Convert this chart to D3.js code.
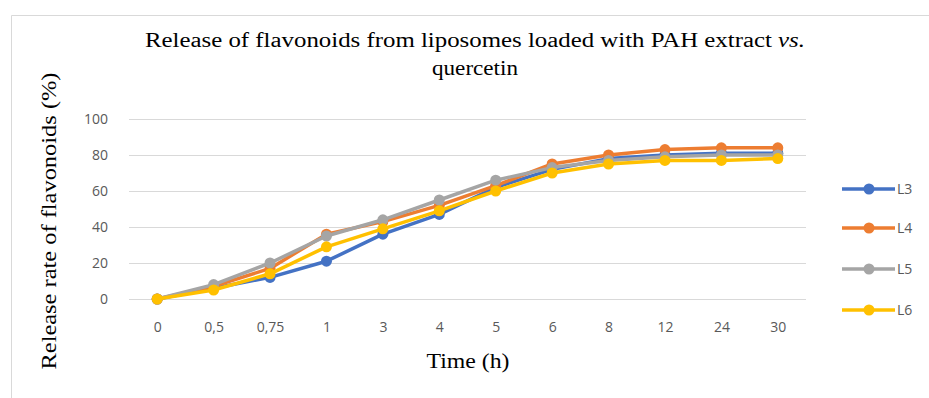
<!DOCTYPE html>
<html>
<head>
<meta charset="utf-8">
<script src="https://cdnjs.cloudflare.com/ajax/libs/d3/7.8.5/d3.min.js"></script>
<style>
  body { margin: 0; background: #fff; }
  svg { display: block; }
</style>
</head>
<body>
<div id="chart"></div>
<script>
// data
var times = ["0", "0,5", "0,75", "1", "3", "4", "5", "6", "8", "12", "24", "30"];
var seriesNames = ["L3", "L4", "L5", "L6"];
var seriesColors = ["#4472C4", "#ED7D31", "#A5A5A5", "#FFC000"];
var L3 = [0, 6, 12, 21, 36, 47, 62, 72, 78, 80, 81, 81];
var L4 = [0, 7, 17, 36, 43, 52, 63, 75, 80, 83, 84, 84];
var L5 = [0, 8, 20, 35, 44, 55, 66, 73, 77, 79, 80, 80];
var L6 = [0, 5, 14, 29, 39, 49, 60, 70, 75, 77, 77, 78];
var yTicks = [0, 20, 40, 60, 80, 100];

var svgWidth = 929;
var svgHeight = 398;

var margin = { top: 119, right: 123, bottom: 99, left: 129 };
var width = svgWidth - margin.left - margin.right;
var height = svgHeight - margin.top - margin.bottom;

var serif = "Liberation Serif, Times New Roman, serif";
var sans = "Open Sans, sans-serif";

var svg = d3.select("#chart")
  .append("svg")
  .attr("width", svgWidth)
  .attr("height", svgHeight);

// chart area border
svg.append("path")
  .attr("d", "M11.5," + svgHeight + "V15.5H" + svgWidth)
  .attr("fill", "none")
  .attr("stroke", "#d9d9d9")
  .attr("stroke-width", 1);

var chartGroup = svg.append("g")
  .attr("transform", `translate(${margin.left}, ${margin.top})`);

var xScale = d3.scalePoint()
  .domain(times)
  .range([0, width])
  .padding(0.5);

var yScale = d3.scaleLinear()
  .domain([0, 100])
  .range([height, 0]);

// gridlines
chartGroup.selectAll(".grid")
  .data(yTicks)
  .enter()
  .append("line")
  .attr("x1", 0)
  .attr("x2", width)
  .attr("y1", d => Math.round(yScale(d)) + 0.5)
  .attr("y2", d => Math.round(yScale(d)) + 0.5)
  .attr("stroke", "#d9d9d9")
  .attr("stroke-width", 1);

// axes
var leftAxis = d3.axisLeft(yScale).tickValues(yTicks).tickSize(0).tickPadding(21);
var bottomAxis = d3.axisBottom(xScale).tickSize(0).tickPadding(23);

var yAxisG = chartGroup.append("g").call(leftAxis);
yAxisG.select(".domain").remove();
yAxisG.selectAll("text")
  .style("font-family", sans)
  .style("font-size", "14px")
  .attr("fill", "#595959");

var xAxisG = chartGroup.append("g")
  .attr("transform", `translate(0, ${height})`)
  .call(bottomAxis);
xAxisG.select(".domain").remove();
xAxisG.selectAll("text")
  .style("font-family", sans)
  .style("font-size", "14px")
  .attr("fill", "#595959");

// series
var allSeries = [L3, L4, L5, L6];
var line = d3.line()
  .x((d, i) => xScale(times[i]))
  .y(d => yScale(d));

allSeries.forEach(function(values, s) {
  chartGroup.append("path")
    .datum(values)
    .attr("d", line)
    .attr("fill", "none")
    .attr("stroke", seriesColors[s])
    .attr("stroke-width", 3.5)
    .attr("stroke-linejoin", "round");

  chartGroup.selectAll(".pt" + s)
    .data(values)
    .enter()
    .append("circle")
    .attr("cx", (d, i) => xScale(times[i]))
    .attr("cy", d => yScale(d))
    .attr("r", 5.5)
    .attr("fill", seriesColors[s]);
});

// legend
var legendY = [189, 228, 269, 310];
var legend = svg.selectAll(".legend")
  .data(seriesNames)
  .enter()
  .append("g")
  .attr("transform", (d, i) => `translate(842, ${legendY[i]})`);

legend.append("line")
  .attr("x1", 0)
  .attr("x2", 53)
  .attr("stroke", (d, i) => seriesColors[i])
  .attr("stroke-width", 3.5);

legend.append("circle")
  .attr("cx", 27)
  .attr("r", 5.5)
  .attr("fill", (d, i) => seriesColors[i]);

legend.append("text")
  .attr("x", 55)
  .attr("dy", "0.35em")
  .style("font-family", sans)
  .style("font-size", "14px")
  .attr("fill", "#595959")
  .text(d => d);

// title (the original text is drawn a bit wide, so stretch it)
var title = svg.append("text")
  .attr("x", 475)
  .attr("y", 47)
  .attr("textLength", 660)
  .attr("lengthAdjust", "spacingAndGlyphs")
  .style("text-anchor", "middle")
  .style("font-family", serif)
  .style("font-size", "20px")
  .attr("fill", "#000");
title.append("tspan").text("Release of flavonoids from liposomes loaded with PAH extract ");
title.append("tspan").style("font-style", "italic").text("vs.");

svg.append("text")
  .attr("x", 475)
  .attr("y", 75)
  .attr("textLength", 86)
  .attr("lengthAdjust", "spacingAndGlyphs")
  .style("text-anchor", "middle")
  .style("font-family", serif)
  .style("font-size", "20px")
  .attr("fill", "#000")
  .text("quercetin");

// axes labels
svg.append("text")
  .attr("transform", "translate(56, 221) rotate(-90)")
  .attr("textLength", 297)
  .attr("lengthAdjust", "spacingAndGlyphs")
  .style("text-anchor", "middle")
  .style("font-family", serif)
  .style("font-size", "20px")
  .attr("fill", "#000")
  .text("Release rate of flavonoids (%)");

svg.append("text")
  .attr("x", 468)
  .attr("y", 368)
  .attr("textLength", 83)
  .attr("lengthAdjust", "spacingAndGlyphs")
  .style("text-anchor", "middle")
  .style("font-family", serif)
  .style("font-size", "20px")
  .attr("fill", "#000")
  .text("Time (h)");
</script>
</body>
</html>
